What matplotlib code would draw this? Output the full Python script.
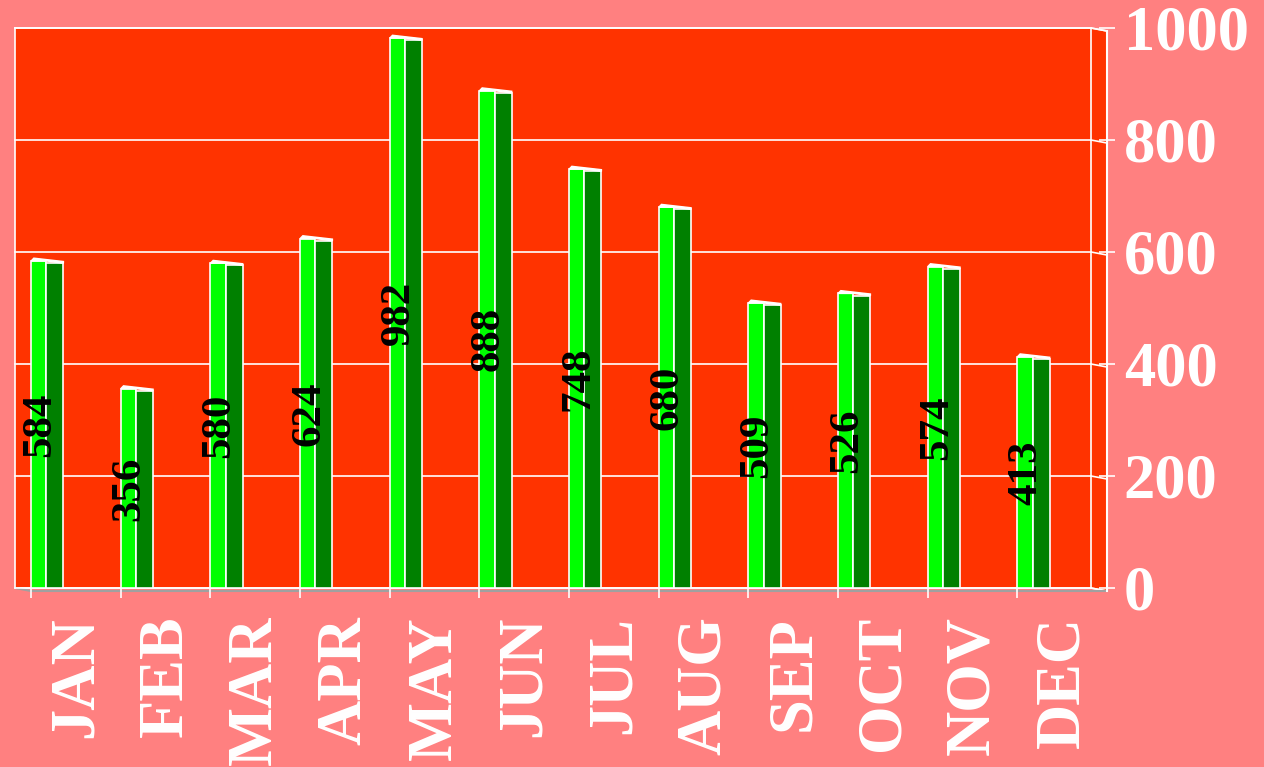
import numpy as np
import matplotlib.pyplot as plt
from matplotlib.patches import Polygon, Rectangle

months = ["JAN", "FEB", "MAR", "APR", "MAY", "JUN", "JUL", "AUG", "SEP", "OCT", "NOV", "DEC"]
values = [584, 356, 580, 624, 982, 888, 748, 680, 509, 526, 574, 413]
yticks = [0, 200, 400, 600, 800, 1000]

bg = '#FF8080'
wall = '#FF3300'
light = '#00FF00'
dark = '#008000'
font = 'Liberation Serif'

fig = plt.figure(figsize=(12.64, 7.67), dpi=100, facecolor=bg)
W, H = 1264, 767
ax = fig.add_axes([15 / W, (H - 588) / H, (1091 - 15) / W, (588 - 28) / H])
ax.set_facecolor(wall)
ax.set_xlim(0, 12)
ax.set_ylim(0, 1000)

# depth offset of the 3d look, in data units
dx = 16 / 89.67
dy = 3 / 0.56

# right side wall
ax.add_patch(Polygon([(12, 0), (12, 1000), (12 + dx, 1000 - dy), (12 + dx, -dy)],
                     closed=True, facecolor=wall, edgecolor='white', lw=1.2, clip_on=False, zorder=0.5))

# gridlines (back wall + side wall)
for v in yticks:
    ax.plot([0, 12], [v, v], color='white', lw=1.2, zorder=1, clip_on=False)
    ax.plot([12, 12 + dx], [v, v - dy], color='white', lw=1.2, zorder=1, clip_on=False)

# floor front edge
ax.plot([0, dx, 12 + dx], [0, -dy, -dy], color='#A0A0A0', lw=1.5, zorder=1, clip_on=False)

x = np.arange(len(months))
for i, v in zip(x, values):
    x0, x1, x2 = i + 0.18, i + 0.35, i + 0.54
    ax.add_patch(Rectangle((x0, 0), x1 - x0, v, facecolor=light, edgecolor='white', lw=1.2, zorder=3))
    ax.add_patch(Rectangle((x1, 0), x2 - x1, v - 4, facecolor=dark, edgecolor='white', lw=1.2, zorder=3))
    ax.add_patch(Polygon([(x0, v), (x0 + 0.03, v + 5), (x2, v - 1), (x2, v - 4), (x1, v)],
                         closed=True, facecolor='white', edgecolor='white', lw=1, zorder=4))
    ax.text(i + 0.28, v / 2, str(v), rotation=90, ha='center', va='center',
            fontsize=31, fontweight='bold', family=font, color='black', zorder=5)

for s in ['left', 'top', 'bottom']:
    ax.spines[s].set_color('white')
    ax.spines[s].set_linewidth(1.2)
ax.spines['right'].set_position(('outward', 11.5))
ax.spines['right'].set_color('white')
ax.spines['right'].set_linewidth(1.5)
ax.spines['right'].set_bounds(-dy, 1000 - dy)

ax.yaxis.tick_right()
ax.set_yticks(yticks)
ax.set_yticklabels([str(t) for t in yticks], fontsize=45, fontweight='bold', family=font, color='white')
ax.tick_params(axis='y', direction='inout', length=12, width=1.2, color='white', pad=6)

ax.set_xticks(x + 0.18)
ax.set_xticklabels([])
ax.tick_params(axis='x', which='major', direction='out', length=7, width=1.2, color='white')
ax.set_xticks(x + 0.69, minor=True)
ax.set_xticklabels(months, minor=True, rotation=90, fontsize=45, fontweight='bold',
                   family=font, color='white')
ax.tick_params(axis='x', which='minor', length=0, pad=20)

fig.savefig('out.png', dpi=100, facecolor=bg)
